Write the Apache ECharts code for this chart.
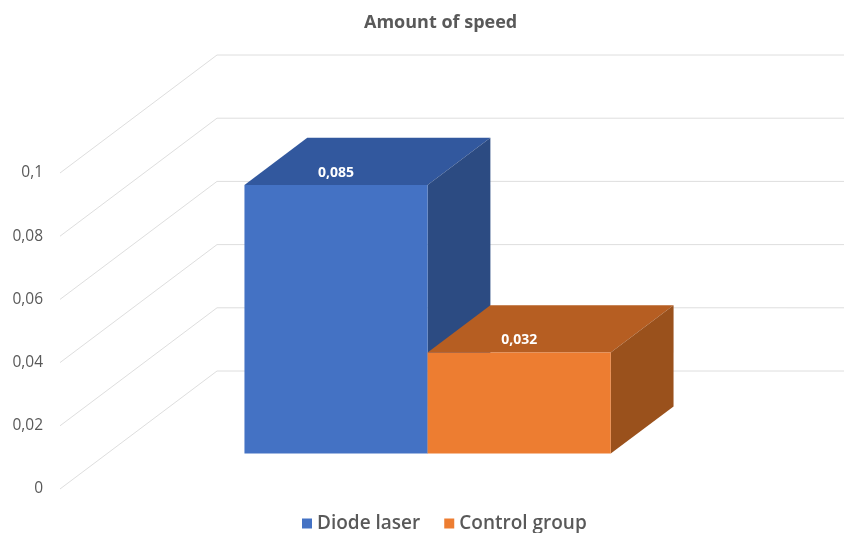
<!DOCTYPE html>
<html>
<head>
<meta charset="utf-8">
<style>
  html, body { margin: 0; padding: 0; background: #ffffff; }
  #chart { width: 844px; height: 533px; }
</style>
<script src="https://cdn.jsdelivr.net/npm/echarts@6/dist/echarts.min.js"></script>
</head>
<body>
<div id="chart"></div>
<script>
// Chart data
const categories = [''];
const seriesNames = ['Diode laser', 'Control group'];
const diodeLaser = [0.085];
const controlGroup = [0.032];
const yTicks = [0, 0.02, 0.04, 0.06, 0.08, 0.1];

// Face colours: front, top, side
const palettes = [
  { front: '#4472C4', top: '#32589E', side: '#2C4B82' },
  { front: '#ED7D31', top: '#B65E22', side: '#9A511C' }
];

// Oblique depth of the 3D box (pixels), bar placement within that depth
const DEPTH = [157, -118];
const BAR_FRONT = 0.3;
const BAR_DEPTH = 0.4;
const GAP_WIDTH = 1.5; // gap relative to one bar width

const fmt = v => String(v).replace('.', ',');

function wallItem(params, api) {
  const cs = params.coordSys;
  const y = api.coord([0, api.value(0)])[1];
  const x0 = cs.x;
  const pts = [
    [x0, y],
    [x0 + DEPTH[0], y + DEPTH[1]],
    [cs.x + cs.width + DEPTH[0] + 20, y + DEPTH[1]]
  ];
  return {
    type: 'polyline',
    shape: { points: pts },
    style: { stroke: '#DEDEDE', lineWidth: 1, fill: null },
    silent: true
  };
}

function makeBarRenderer(index, nBars) {
  const pal = palettes[index];
  return function (params, api) {
    const val = api.value(1);
    const center = api.coord([api.value(0), 0]);
    const top = api.coord([api.value(0), val]);
    const band = api.size([1, 0])[0];
    const barW = band / (nBars + GAP_WIDTH);
    const dx = DEPTH[0] * BAR_FRONT, dy = DEPTH[1] * BAR_FRONT;
    const ddx = DEPTH[0] * BAR_DEPTH, ddy = DEPTH[1] * BAR_DEPTH;
    const x1 = center[0] - band / 2 + (GAP_WIDTH * barW) / 2 + index * barW + dx;
    const x2 = x1 + barW;
    const yb = center[1] + dy;
    const yt = top[1] + dy;
    return {
      type: 'group',
      children: [
        {
          type: 'polygon',
          shape: { points: [[x1, yt], [x2, yt], [x2 + ddx, yt + ddy], [x1 + ddx, yt + ddy]] },
          style: { fill: pal.top }
        },
        {
          type: 'polygon',
          shape: { points: [[x2, yt], [x2 + ddx, yt + ddy], [x2 + ddx, yb + ddy], [x2, yb]] },
          style: { fill: pal.side }
        },
        {
          type: 'rect',
          shape: { x: x1, y: yt, width: barW, height: yb - yt },
          style: { fill: pal.front }
        },
        {
          type: 'text',
          x: (x1 + x2) / 2,
          y: yt - 12,
          style: {
            text: fmt(val),
            fill: '#FFFFFF',
            font: 'bold 14px "Open Sans", sans-serif',
            align: 'center',
            verticalAlign: 'middle'
          }
        }
      ]
    };
  };
}

const seriesValues = [diodeLaser, controlGroup];

const chart = echarts.init(document.getElementById('chart'), null, { renderer: 'canvas' });
chart.setOption({
  animation: false,
  backgroundColor: '#ffffff',
  title: {
    text: 'Amount of speed',
    left: 359,
    top: 9,
    textStyle: {
      fontFamily: '"Open Sans", sans-serif',
      fontSize: 18,
      fontWeight: 'bold',
      color: '#595959'
    }
  },
  legend: {
    data: seriesNames,
    top: 509,
    left: 297,
    icon: 'rect',
    itemWidth: 10,
    itemHeight: 10,
    itemGap: 24,
    textStyle: {
      fontFamily: '"Open Sans", sans-serif',
      fontSize: 19,
      fontWeight: 600,
      color: '#595959'
    }
  },
  grid: { left: 60, right: 143, top: 173, bottom: 44 },
  xAxis: {
    type: 'category',
    data: categories,
    axisLine: { show: false },
    axisTick: { show: false },
    axisLabel: { show: false }
  },
  yAxis: {
    type: 'value',
    min: 0,
    max: 0.1,
    interval: 0.02,
    axisLine: { show: false },
    axisTick: { show: false },
    splitLine: { show: false },
    axisLabel: {
      margin: 17,
      color: '#595959',
      fontSize: 15.5,
      fontFamily: '"Open Sans", sans-serif',
      formatter: v => fmt(+v.toFixed(2))
    }
  },
  series: [
    {
      type: 'custom',
      name: 'walls',
      data: yTicks.map(v => [v]),
      renderItem: wallItem,
      silent: true,
      z: 1
    },
    ...seriesNames.map((name, i) => ({
      type: 'custom',
      name: name,
      itemStyle: { color: palettes[i].front },
      data: seriesValues[i].map((v, k) => [k, v]),
      encode: { x: 0, y: 1 },
      renderItem: makeBarRenderer(i, seriesNames.length),
      z: 2 + i
    }))
  ]
});
</script>
</body>
</html>
